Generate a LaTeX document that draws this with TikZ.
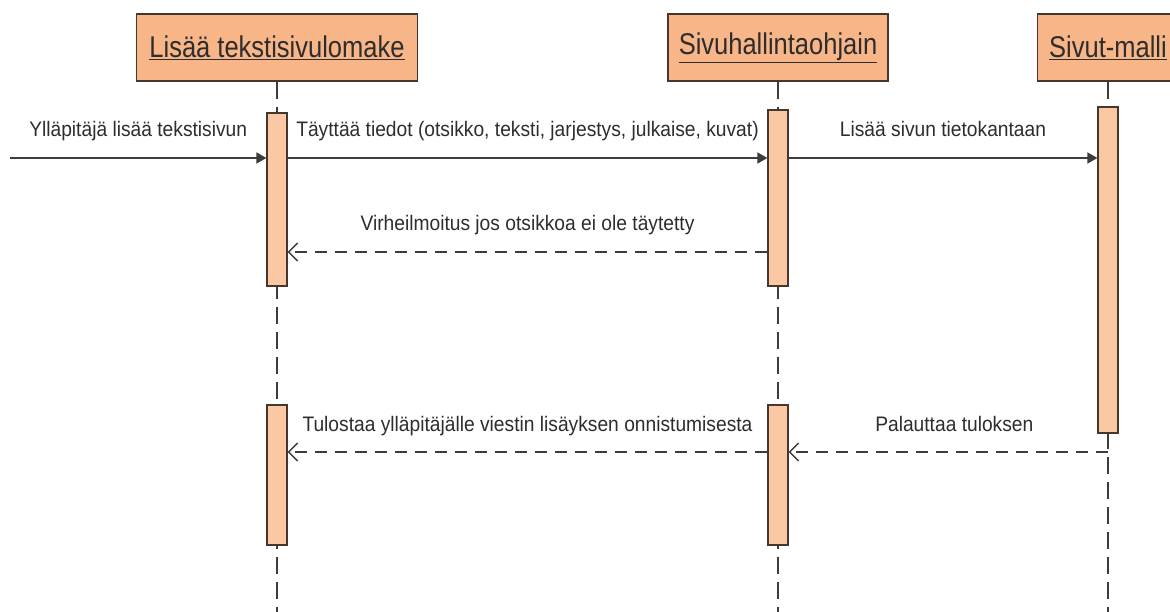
\documentclass[tikz,border=0pt]{standalone}
\usepackage{fontspec}
\setmainfont{Liberation Sans}
\newfontfamily\headfont[FakeStretch=0.85]{Liberation Sans}
\newfontfamily\msgfont[FakeStretch=0.915]{Liberation Sans}
\usetikzlibrary{arrows.meta}
\definecolor{headfill}{RGB}{247,181,136}
\definecolor{barfill}{RGB}{250,201,163}
\definecolor{edgeclr}{RGB}{70,55,45}
\definecolor{lineclr}{RGB}{60,60,60}
\definecolor{txtclr}{RGB}{45,45,45}

\begin{document}
\begin{tikzpicture}[x=1pt,y=-1pt,
	head/.style={draw=edgeclr,line width=1.5pt,fill=headfill,minimum height=67pt,inner sep=0pt,text=txtclr,font=\headfont\fontsize{30}{36}\selectfont},
	bar/.style={draw=edgeclr,line width=1.2pt,fill=barfill,minimum width=20pt,inner sep=0pt},
	life/.style={draw=lineclr,line width=1.3pt,dash pattern=on 17pt off 8pt},
	call/.style={draw=lineclr,line width=1.5pt,-{Triangle[length=10pt,width=11pt]}},
	reply/.style={draw=lineclr,line width=1.5pt,dash pattern=on 12pt off 8pt,-{Straight Barb[length=9pt,width=18pt]}},
	msg/.style={text=txtclr,font=\msgfont\fontsize{21}{25}\selectfont,anchor=base,yshift=21pt,inner sep=0pt}]
	\clip (0,0) rectangle (1170,612);
	\node[head,minimum width=281pt] (lomake) at (277,47.5) {\underline{Lisää tekstisivulomake}};
	\node[head,minimum width=220pt] (ohjain) at (778,47.5) {\underline{Sivuhallintaohjain}};
	\node[head,minimum width=141pt] (malli) at (1108,47.5) {\underline{Sivut-malli}};
	\draw[life] (lomake.south) -- (277,612);
	\draw[life] (ohjain.south) -- (778,612);
	\draw[life] (malli.south) -- (1108,612);
	\node[bar,minimum height=173pt] (lomakeA) at (277,199.5) {};
	\node[bar,minimum height=176pt] (ohjainA) at (778,198) {};
	\node[bar,minimum height=326pt] (malliA) at (1108,270) {};
	\node[bar,minimum height=140pt] (lomakeB) at (277,475) {};
	\node[bar,minimum height=140pt] (ohjainB) at (778,475) {};
	\coordinate (alku) at (10,158);
	\coordinate (virhe) at (0,252);
	\coordinate (tulos) at (0,452);
	\draw[call] (alku) -- (lomakeA.west |- alku) node[msg,midway] (m1) {Ylläpitäjä lisää tekstisivun};
	\draw[call] (lomakeA.east |- alku) -- (ohjainA.west |- alku) node[msg,midway] (m2) {Täyttää tiedot (otsikko, teksti, jarjestys, julkaise, kuvat)};
	\draw[call] (ohjainA.east |- alku) -- (malliA.west |- alku) node[msg,midway] (m3) {Lisää sivun tietokantaan};
	\draw[reply] (ohjainA.west |- virhe) -- (lomakeA.east |- virhe) node[msg,midway] (m4) {Virheilmoitus jos otsikkoa ei ole täytetty};
	\draw[reply] (malliA.south |- tulos) -- (ohjainB.east |- tulos) node[msg,midway,xshift=6pt] (m5) {Palauttaa tuloksen};
	\draw[reply] (ohjainB.west |- tulos) -- (lomakeB.east |- tulos) node[msg,midway] (m6) {Tulostaa ylläpitäjälle viestin lisäyksen onnistumisesta};
\end{tikzpicture}
\end{document}
